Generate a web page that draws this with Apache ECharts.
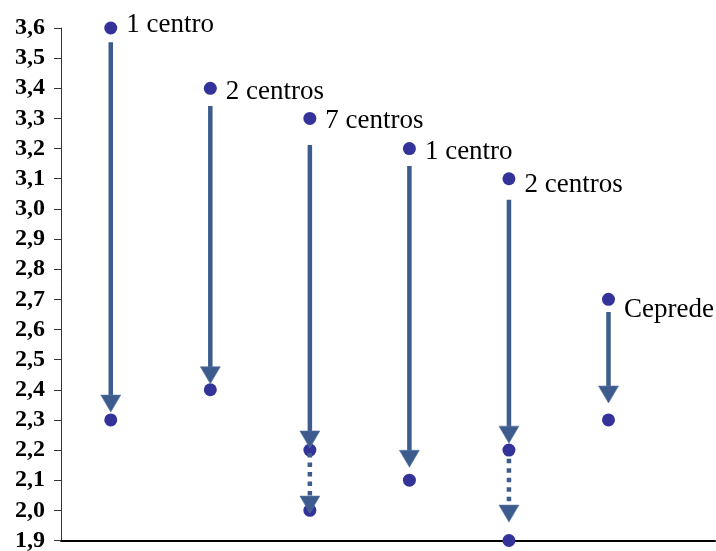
<!DOCTYPE html>
<html>
<head>
<meta charset="utf-8">
<script src="https://cdn.jsdelivr.net/npm/echarts@6/dist/echarts.min.js"></script>
<style>
html,body{margin:0;padding:0;background:#fff;}
#chart{width:716px;height:551px;}
</style>
</head>
<body>
<div id="chart"></div>
<script>
// ---- data ----
const positions = [1, 2, 3, 4, 5, 6];
const centerLabels = ['1 centro', '2 centros', '7 centros', '1 centro', '2 centros', 'Ceprede'];
const startValues = [3.6, 3.4, 3.3, 3.2, 3.1, 2.7];
const endValues = [2.3, 2.4, 2.2, 2.1, 2.2, 2.3];
const extraValues = [null, null, 2.0, null, 1.9, null];
// solid arrows (from -> tip)
const arrowFrom = [3.553, 3.341, 3.212, 3.142, 3.03, 2.658];
const arrowTo = [2.326, 2.42, 2.207, 2.143, 2.223, 2.356];
// dotted arrows (from -> tip)
const dottedFrom = [null, null, 2.19, null, 2.171, null];
const dottedTo = [null, null, 1.991, null, 1.961, null];
const yMin = 1.9, yMax = 3.6, yStep = 0.1;

// ---- layout / style (not data) ----
const labelOffsetY = [-3, 4, 2, 3, 6, 11];
const dotColor = '#333399';
const arrowColor = '#3d5b8c';

const topPoints = positions.map((x, i) => ({
  value: [x, startValues[i]],
  label: { offset: [0, labelOffsetY[i]] },
  name: centerLabels[i]
}));
const lowPoints = [];
positions.forEach((x, i) => {
  lowPoints.push([x, endValues[i]]);
  if (extraValues[i] != null) lowPoints.push([x, extraValues[i]]);
});
const arrowData = [];
positions.forEach((x, i) => {
  arrowData.push([x, arrowFrom[i], arrowTo[i], 0]);
  if (dottedFrom[i] != null) arrowData.push([x, dottedFrom[i], dottedTo[i], 1]);
});

const chart = echarts.init(document.getElementById('chart'));
chart.setOption({
  animation: false,
  backgroundColor: '#fff',
  grid: { left: 61, right: 1, top: 28, bottom: 10.5, outerBoundsMode: 'none', containLabel: false },
  xAxis: {
    type: 'value', min: 0.5, max: 7.07,
    axisLabel: { show: false }, axisTick: { show: false }, splitLine: { show: false },
    axisLine: { show: true, onZero: false, lineStyle: { color: '#000', width: 2 } }
  },
  yAxis: {
    type: 'value', min: yMin, max: yMax, interval: yStep,
    splitLine: { show: false },
    axisLine: { show: true, lineStyle: { color: '#333', width: 1 } },
    axisTick: { show: true, length: 7, lineStyle: { color: '#333', width: 1 } },
    axisLabel: {
      margin: 16, color: '#000', fontFamily: 'Liberation Serif', fontWeight: 'bold', fontSize: 24,
      formatter: v => v.toFixed(1).replace('.', ',')
    }
  },
  series: [
    {
      type: 'scatter', z: 2, symbol: 'circle', symbolSize: 13,
      itemStyle: { color: dotColor, opacity: 1 },
      data: topPoints,
      label: {
        show: true, position: 'right', distance: 9,
        formatter: p => p.name,
        fontFamily: 'Liberation Serif', fontSize: 27, color: '#000'
      }
    },
    {
      type: 'scatter', z: 2, symbol: 'circle', symbolSize: 13,
      itemStyle: { color: dotColor, opacity: 1 },
      data: lowPoints
    },
    {
      type: 'custom', z: 3,
      data: arrowData,
      renderItem: function (params, api) {
        const x = api.value(0), y1 = api.value(1), y2 = api.value(2), dashed = api.value(3);
        const p1 = api.coord([x, y1]);
        const p2 = api.coord([x, y2]);
        const hh = 17, hw = 10;
        return {
          type: 'group',
          children: [
            {
              type: 'line',
              shape: { x1: p1[0], y1: p1[1], x2: p2[0], y2: p2[1] - hh + 1 },
              style: { stroke: arrowColor, lineWidth: 4.5, lineDash: dashed ? [4.5, 5] : null }
            },
            {
              type: 'polygon',
              shape: { points: [[p2[0] - hw, p2[1] - hh], [p2[0] + hw, p2[1] - hh], [p2[0], p2[1]]] },
              style: { fill: arrowColor, stroke: '#5a78a6', lineWidth: 0.6 }
            }
          ]
        };
      }
    }
  ]
});
</script>
</body>
</html>
